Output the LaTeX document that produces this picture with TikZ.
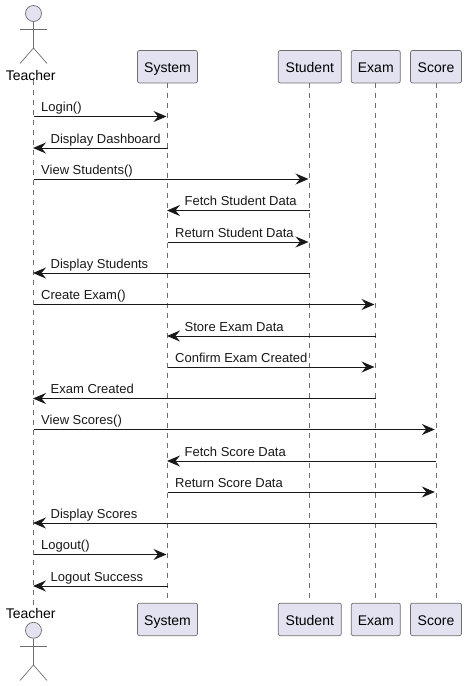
\documentclass[tikz,border=0pt]{standalone}
\usepackage{fontspec}
\setmainfont{Liberation Sans}
\usepackage{xcolor}
\definecolor{umlfill}{RGB}{226,226,240}
\definecolor{umlline}{RGB}{24,24,24}
\definecolor{umlgray}{RGB}{110,110,110}
\usetikzlibrary{arrows.meta}
\tikzset{
  partbox/.style={draw=umlgray, fill=umlfill, rounded corners=2pt, line width=0.7pt, minimum height=32.5pt, inner xsep=0pt, inner ysep=0pt, text height=12pt, text depth=0pt, font=\fontsize{14}{16}\selectfont},
  actorhead/.style={circle, draw=umlgray, fill=umlfill, line width=0.7pt, minimum size=16pt, inner sep=0pt},
  actorlimb/.style={umlgray, line width=0.7pt},
  actorname/.style={inner sep=0pt, font=\fontsize{14}{16}\selectfont},
  lifeline/.style={umlgray, line width=0.6pt, dash pattern=on 5pt off 5pt},
  msg/.style={umlline, line width=1pt, -{Stealth[length=13pt, width=11pt, inset=4.5pt]}, shorten >=-0.5pt},
  msgright/.style={msg, shorten >=1pt},
  msglabel/.style={anchor=base west, inner sep=0pt, font=\fontsize{13}{15}\selectfont, text=umlline}
}

\begin{document}
\begin{tikzpicture}[x=1pt, y=-1pt]
  \useasboundingbox (0,0) rectangle (466,686);

  % Lifeline end points for each message row
  \foreach \n/\y in {1/116.5, 2/148, 3/179, 4/210.5, 5/242, 6/273, 7/304.5, 8/336,
                     9/367, 10/398.5, 11/429.5, 12/461, 13/492, 14/523, 15/554.5, 16/586} {
    \foreach \p/\x in {teacher/33.5, system/167.5, student/309.5, exam/375.5, score/435.8} {
      \coordinate (\p\n) at (\x,\y);
    }
  }

  % Participant boxes, top and bottom
  \foreach \s/\y in {top/66.7, bot/619.4} {
    \node[partbox, minimum width=60pt] (system\s) at (167.5,\y) {System};
    \node[partbox, minimum width=63pt] (student\s) at (309.8,\y) {Student};
    \node[partbox, minimum width=49pt] (exam\s) at (375.8,\y) {Exam};
    \node[partbox, minimum width=51pt] (score\s) at (436,\y) {Score};
  }

  % Actor at top
  \node[actorhead] (headtop) at (33.5,13.5) {};
  \coordinate (armtopl) at (20,29);
  \coordinate (armtopr) at (47,29);
  \coordinate (hiptop) at (33.5,48);
  \coordinate (legtopl) at (20,63.5);
  \coordinate (legtopr) at (47,63.5);
  \draw[actorlimb] (headtop) -- (hiptop);
  \draw[actorlimb] (armtopl) -- (armtopr);
  \draw[actorlimb] (legtopl) -- (hiptop) -- (legtopr);
  \node[actorname] (teachertop) at (30.7,75) {Teacher};

  % Actor at bottom
  \node[actorname] (teacherbot) at (30.7,613) {Teacher};
  \node[actorhead] (headbot) at (33.5,630.3) {};
  \coordinate (armbotl) at (20,646);
  \coordinate (armbotr) at (47,646);
  \coordinate (hipbot) at (33.5,665);
  \coordinate (legbotl) at (20,680.5);
  \coordinate (legbotr) at (47,680.5);
  \draw[actorlimb] (headbot) -- (hipbot);
  \draw[actorlimb] (armbotl) -- (armbotr);
  \draw[actorlimb] (legbotl) -- (hipbot) -- (legbotr);

  % Lifelines
  \draw[lifeline] (headtop |- teachertop.south) -- (headbot |- teacherbot.north);
  \draw[lifeline] (system1 |- systemtop.south) -- (system1 |- systembot.north);
  \draw[lifeline] (student1 |- studenttop.south) -- (student1 |- studentbot.north);
  \draw[lifeline] (exam1 |- examtop.south) -- (exam1 |- exambot.north);
  \draw[lifeline] (score1 |- scoretop.south) -- (score1 |- scorebot.north);

  % Messages going right: label sits just past the sender
  \foreach \n/\a/\b/\txt in {1/teacher/system/Login(), 3/teacher/student/View Students(),
      5/system/student/Return Student Data, 7/teacher/exam/Create Exam(),
      9/system/exam/Confirm Exam Created, 11/teacher/score/View Scores(),
      13/system/score/Return Score Data, 15/teacher/system/Logout()} {
    \draw[msgright] (\a\n) -- (\b\n);
    \node[msglabel] (label\n) at ([xshift=7.5pt, yshift=5pt]\a\n) {\txt};
  }

  % Messages going left: label clears the arrowhead
  \foreach \n/\a/\b/\txt in {2/system/teacher/Display Dashboard, 4/student/system/Fetch Student Data,
      6/student/teacher/Display Students, 8/exam/system/Store Exam Data,
      10/exam/teacher/Exam Created, 12/score/system/Fetch Score Data,
      14/score/teacher/Display Scores, 16/system/teacher/Logout Success} {
    \draw[msg] (\a\n) -- (\b\n);
    \node[msglabel] (label\n) at ([xshift=17pt, yshift=5pt]\b\n) {\txt};
  }
\end{tikzpicture}
\end{document}
